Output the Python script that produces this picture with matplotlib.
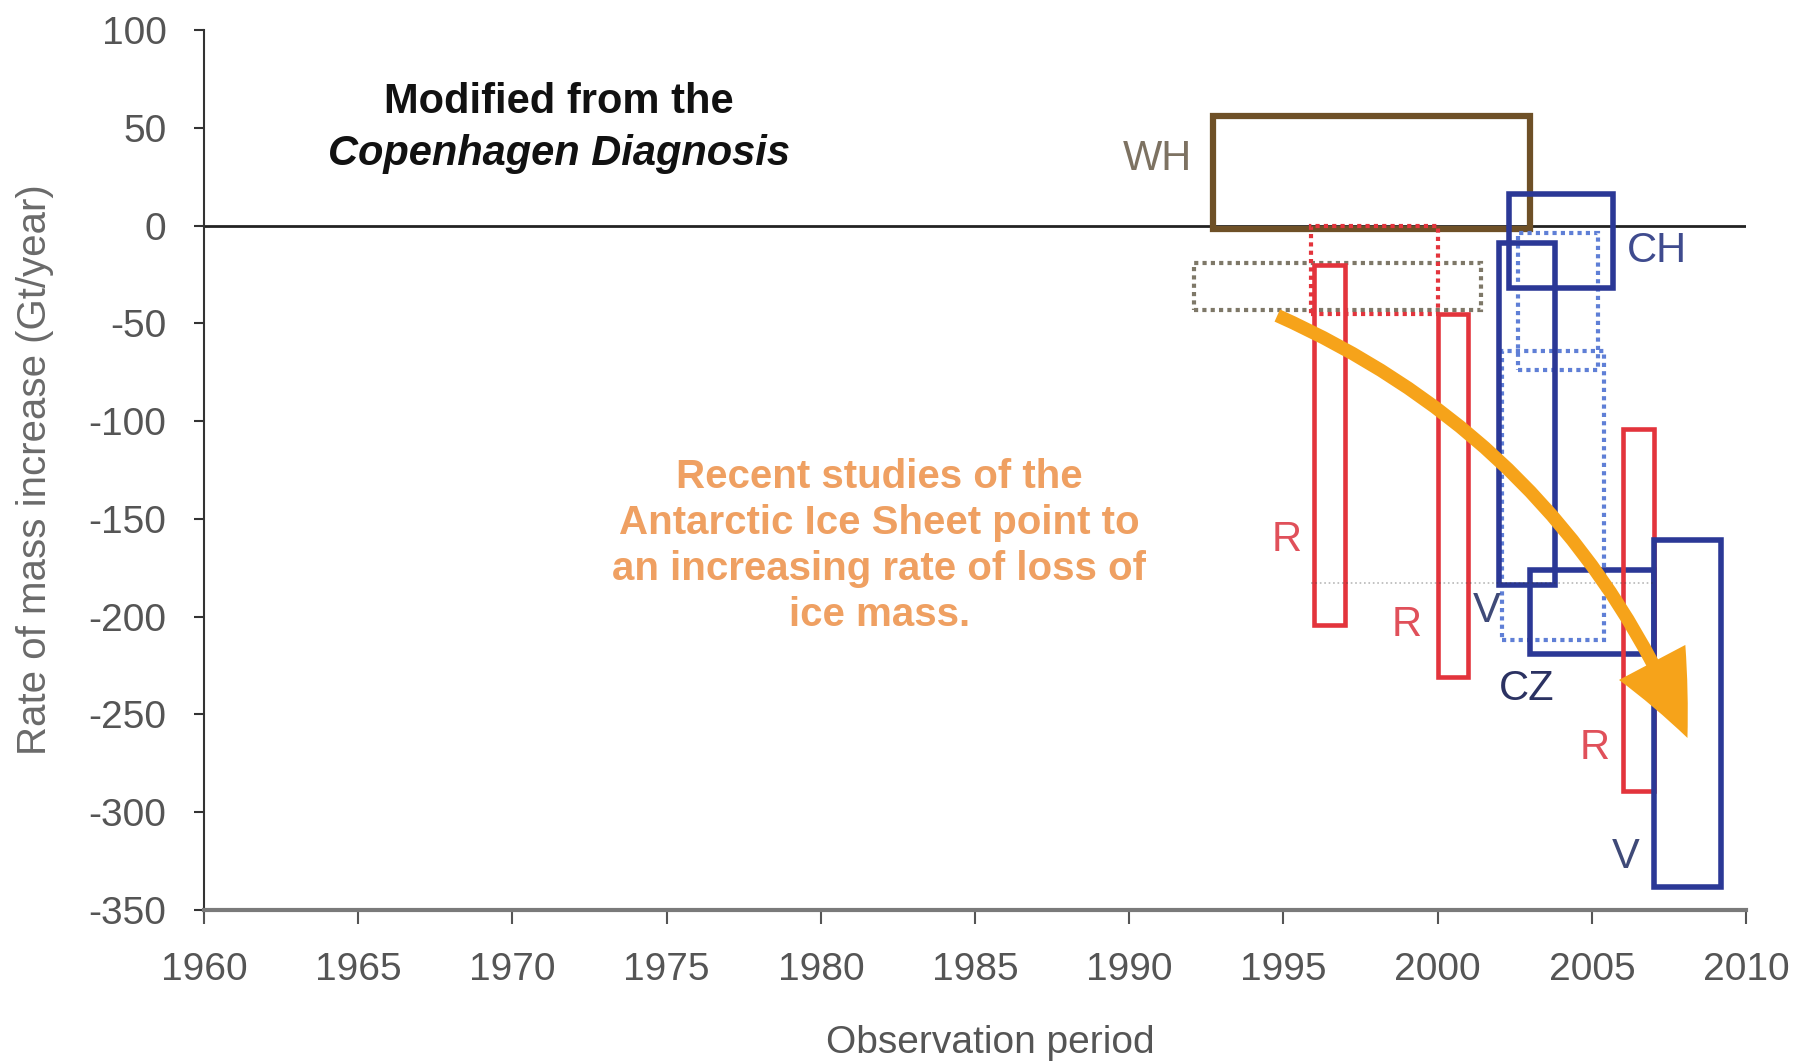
import matplotlib.pyplot as plt
from matplotlib.patches import Rectangle, FancyArrowPatch

plt.rcParams['font.family'] = ['Liberation Sans', 'DejaVu Sans']
plt.rcParams['axes.unicode_minus'] = False

# --- data (years / Gt per year) ---
solid_names = ["WH", "R", "R", "V", "CH", "CZ", "R", "V"]
solid_start = [1992.7, 1996.0, 2000.0, 2002.0, 2002.3, 2003.0, 2006.0, 2007.0]
solid_end = [2003.0, 1997.0, 2001.0, 2003.8, 2005.7, 2007.0, 2007.0, 2009.2]
solid_high = [56, -20, -45, -9, 16, -176, -104, -161]
solid_low = [-2, -204, -231, -184, -32, -219, -289, -338]
solid_group = ["brown", "red", "red", "blue", "blue", "blue", "red", "blue"]

dotted_start = [1992.1, 1995.9, 2002.6, 2002.1]
dotted_end = [2001.4, 2000.0, 2005.2, 2005.4]
dotted_high = [-19, 0, -4, -64]
dotted_low = [-43, -45, -74, -212]
dotted_group = ["gray", "red", "lightblue", "lightblue"]

label_text = ["WH", "R", "R", "R", "V", "V", "CH", "CZ"]
label_year = [1990.9, 1995.1, 1999.0, 2005.1, 2001.6, 2006.1, 2007.1, 2002.9]
label_rate = [34, -161, -204, -267, -197, -323, -13, -237]
label_group = ["wh", "r", "r", "r", "v", "v", "ch", "cz"]

arrow_from = (1994.8, -46)
arrow_to = (2008.1, -262)

x_ticks = list(range(1960, 2011, 5))
y_ticks = list(range(-350, 101, 50))

box_colors = {"brown": "#6E5027", "red": "#E3343C", "blue": "#2B3896",
              "gray": "#7E7868", "lightblue": "#5F7FD6"}
label_colors = {"wh": "#7D7262", "r": "#E0505A", "v": "#3F4A78",
                "ch": "#3F4B8E", "cz": "#2B3262"}

fig = plt.figure(figsize=(18.06, 10.64), dpi=100)
ax = fig.add_axes([0.1130, 0.1447, 0.8538, 0.8271])
ax.set_xlim(1960, 2010)
ax.set_ylim(-350, 100)

ax.axhline(0, color="#222222", lw=2.0, zorder=1)

# dotted boxes
for x0, x1, hi, lo, g in zip(dotted_start, dotted_end, dotted_high, dotted_low, dotted_group):
    ax.add_patch(Rectangle((x0, lo), x1 - x0, hi - lo, fill=False,
                           edgecolor=box_colors[g], lw=3.0, linestyle=(0, (1, 1)),
                           zorder=3))

# solid boxes
for x0, x1, hi, lo, g in zip(solid_start, solid_end, solid_high, solid_low, solid_group):
    lw = 4.5 if g == "brown" else (3.3 if g == "red" else 4.0)
    z = 2 if g == "brown" else 4
    ax.add_patch(Rectangle((x0, lo), x1 - x0, hi - lo, fill=False,
                           edgecolor=box_colors[g], lw=lw, zorder=z))

# faint central marks on the R boxes
ax.hlines(-183, 1995.9, 2007.0, colors="#333333", linestyles=":", lw=1.2,
          alpha=0.35, zorder=5)

for t, x, y, g in zip(label_text, label_year, label_rate, label_group):
    ax.text(x, y, t, color=label_colors[g], fontsize=30, ha="center", va="center",
            zorder=6)

arrow = FancyArrowPatch(arrow_from, arrow_to,
                        connectionstyle="arc3,rad=-0.2",
                        arrowstyle="simple,head_length=3.0,head_width=2.7,tail_width=0.48",
                        mutation_scale=20, color="#F6A31A", lw=0,
                        shrinkA=0, shrinkB=0, zorder=7)
ax.add_patch(arrow)

ax.text(1971.5, 63, "Modified from the", fontsize=30, fontweight="bold",
        ha="center", va="center", color="#111111")
ax.text(1971.5, 36.5, "Copenhagen Diagnosis", fontsize=30, fontweight="bold",
        fontstyle="italic", ha="center", va="center", color="#111111")

ax.text(1981.9, -164, "Recent studies of the\nAntarctic Ice Sheet point to\n"
        "an increasing rate of loss of\nice mass.",
        fontsize=29, fontweight="bold", color="#EFA062", ha="center",
        va="center", linespacing=1.27)

# axes styling
ax.spines["top"].set_visible(False)
ax.spines["right"].set_visible(False)
ax.spines["left"].set_color("#333333")
ax.spines["left"].set_linewidth(1.5)
ax.spines["bottom"].set_color("#7A7A7A")
ax.spines["bottom"].set_linewidth(3.0)

ax.set_xticks(x_ticks)
ax.set_yticks(y_ticks)
ax.tick_params(axis="x", direction="out", length=10, width=1.5, color="#555555",
               labelsize=28, labelcolor="#555555", pad=20)
ax.tick_params(axis="y", direction="out", length=7, width=1.5, color="#333333",
               labelsize=28, labelcolor="#555555", pad=20)

ax.set_xlabel("Observation period", fontsize=28, color="#555555", va="center")
ax.xaxis.set_label_coords(0.51, -0.151)
ax.set_ylabel("Rate of mass increase (Gt/year)", fontsize=29, color="#6A6A6A",
              va="center")
ax.yaxis.set_label_coords(-0.1096, 0.5)

fig.savefig("out.png", dpi=100, facecolor="white")
